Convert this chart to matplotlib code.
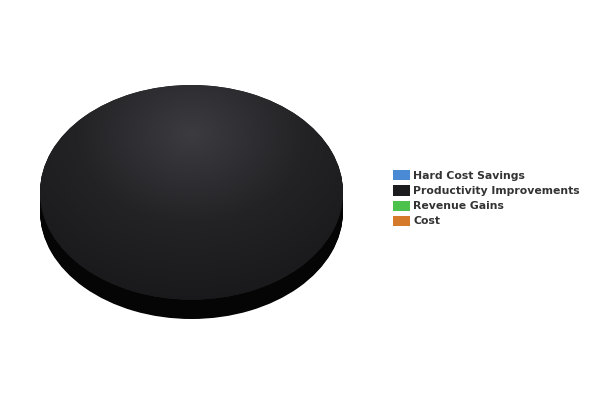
import numpy as np
import matplotlib
matplotlib.use("Agg")
import matplotlib.pyplot as plt
from matplotlib.colors import LinearSegmentedColormap

categories = ["Hard Cost Savings", "Productivity Improvements", "Revenue Gains", "Cost"]
values = [0, 100, 0, 0]
colors = ["#4a8ad4", "#1c1c1e", "#4cc24c", "#d47a2a"]
side_colors = ["#2a5a94", "#050505", "#2a8a2a", "#94501a"]

W, H = 600, 400
fig = plt.figure(figsize=(6, 4), dpi=100)
fig.patch.set_facecolor("white")

depth = 0.18
ax = fig.add_axes([40 / W, (H - 319) / H, 303 / W, 234 / H])
ax.set_axis_off()

# side of the 3D pie: stacked layers
n = 24
for i in range(n, 0, -1):
    off = depth * i / n
    ax.pie(values, colors=side_colors, radius=1, center=(0, -off),
           startangle=90, counterclock=False, wedgeprops=dict(linewidth=0))

wedges, _ = ax.pie(values, colors=colors, radius=1, center=(0, 0),
                   startangle=90, counterclock=False,
                   wedgeprops=dict(linewidth=0))
ax.set_aspect("auto")

# radial gradient sheen on the top face
cmap = LinearSegmentedColormap.from_list("sheen", ["#3c3b40", "#232326", "#18181a"])
xs = np.linspace(-1, 1, 400)
ys = np.linspace(-1, 1, 400)
X, Y = np.meshgrid(xs, ys)
R = np.sqrt(X ** 2 + ((Y - 0.55) * 0.9) ** 2)
for w, v in zip(wedges, values):
    if v > 0:
        im = ax.imshow(R, extent=(-1, 1, -1, 1), origin="lower", cmap=cmap,
                       vmin=0, vmax=1.5, aspect="auto", zorder=3)
        im.set_clip_path(w)
ax.set_xlim(-1, 1)
ax.set_ylim(-1 - depth, 1)

leg = fig.legend(wedges, categories, loc="upper left",
                 bbox_to_anchor=(388 / W, 1 - 165 / H),
                 frameon=False, handlelength=1.5, handleheight=1.05,
                 handletextpad=0.35, labelspacing=0.4, borderpad=0,
                 prop=dict(family="DejaVu Sans", weight="bold", size=7.8))
for t in leg.get_texts():
    t.set_color("#333333")

fig.savefig("out.png", dpi=100, facecolor="white")
